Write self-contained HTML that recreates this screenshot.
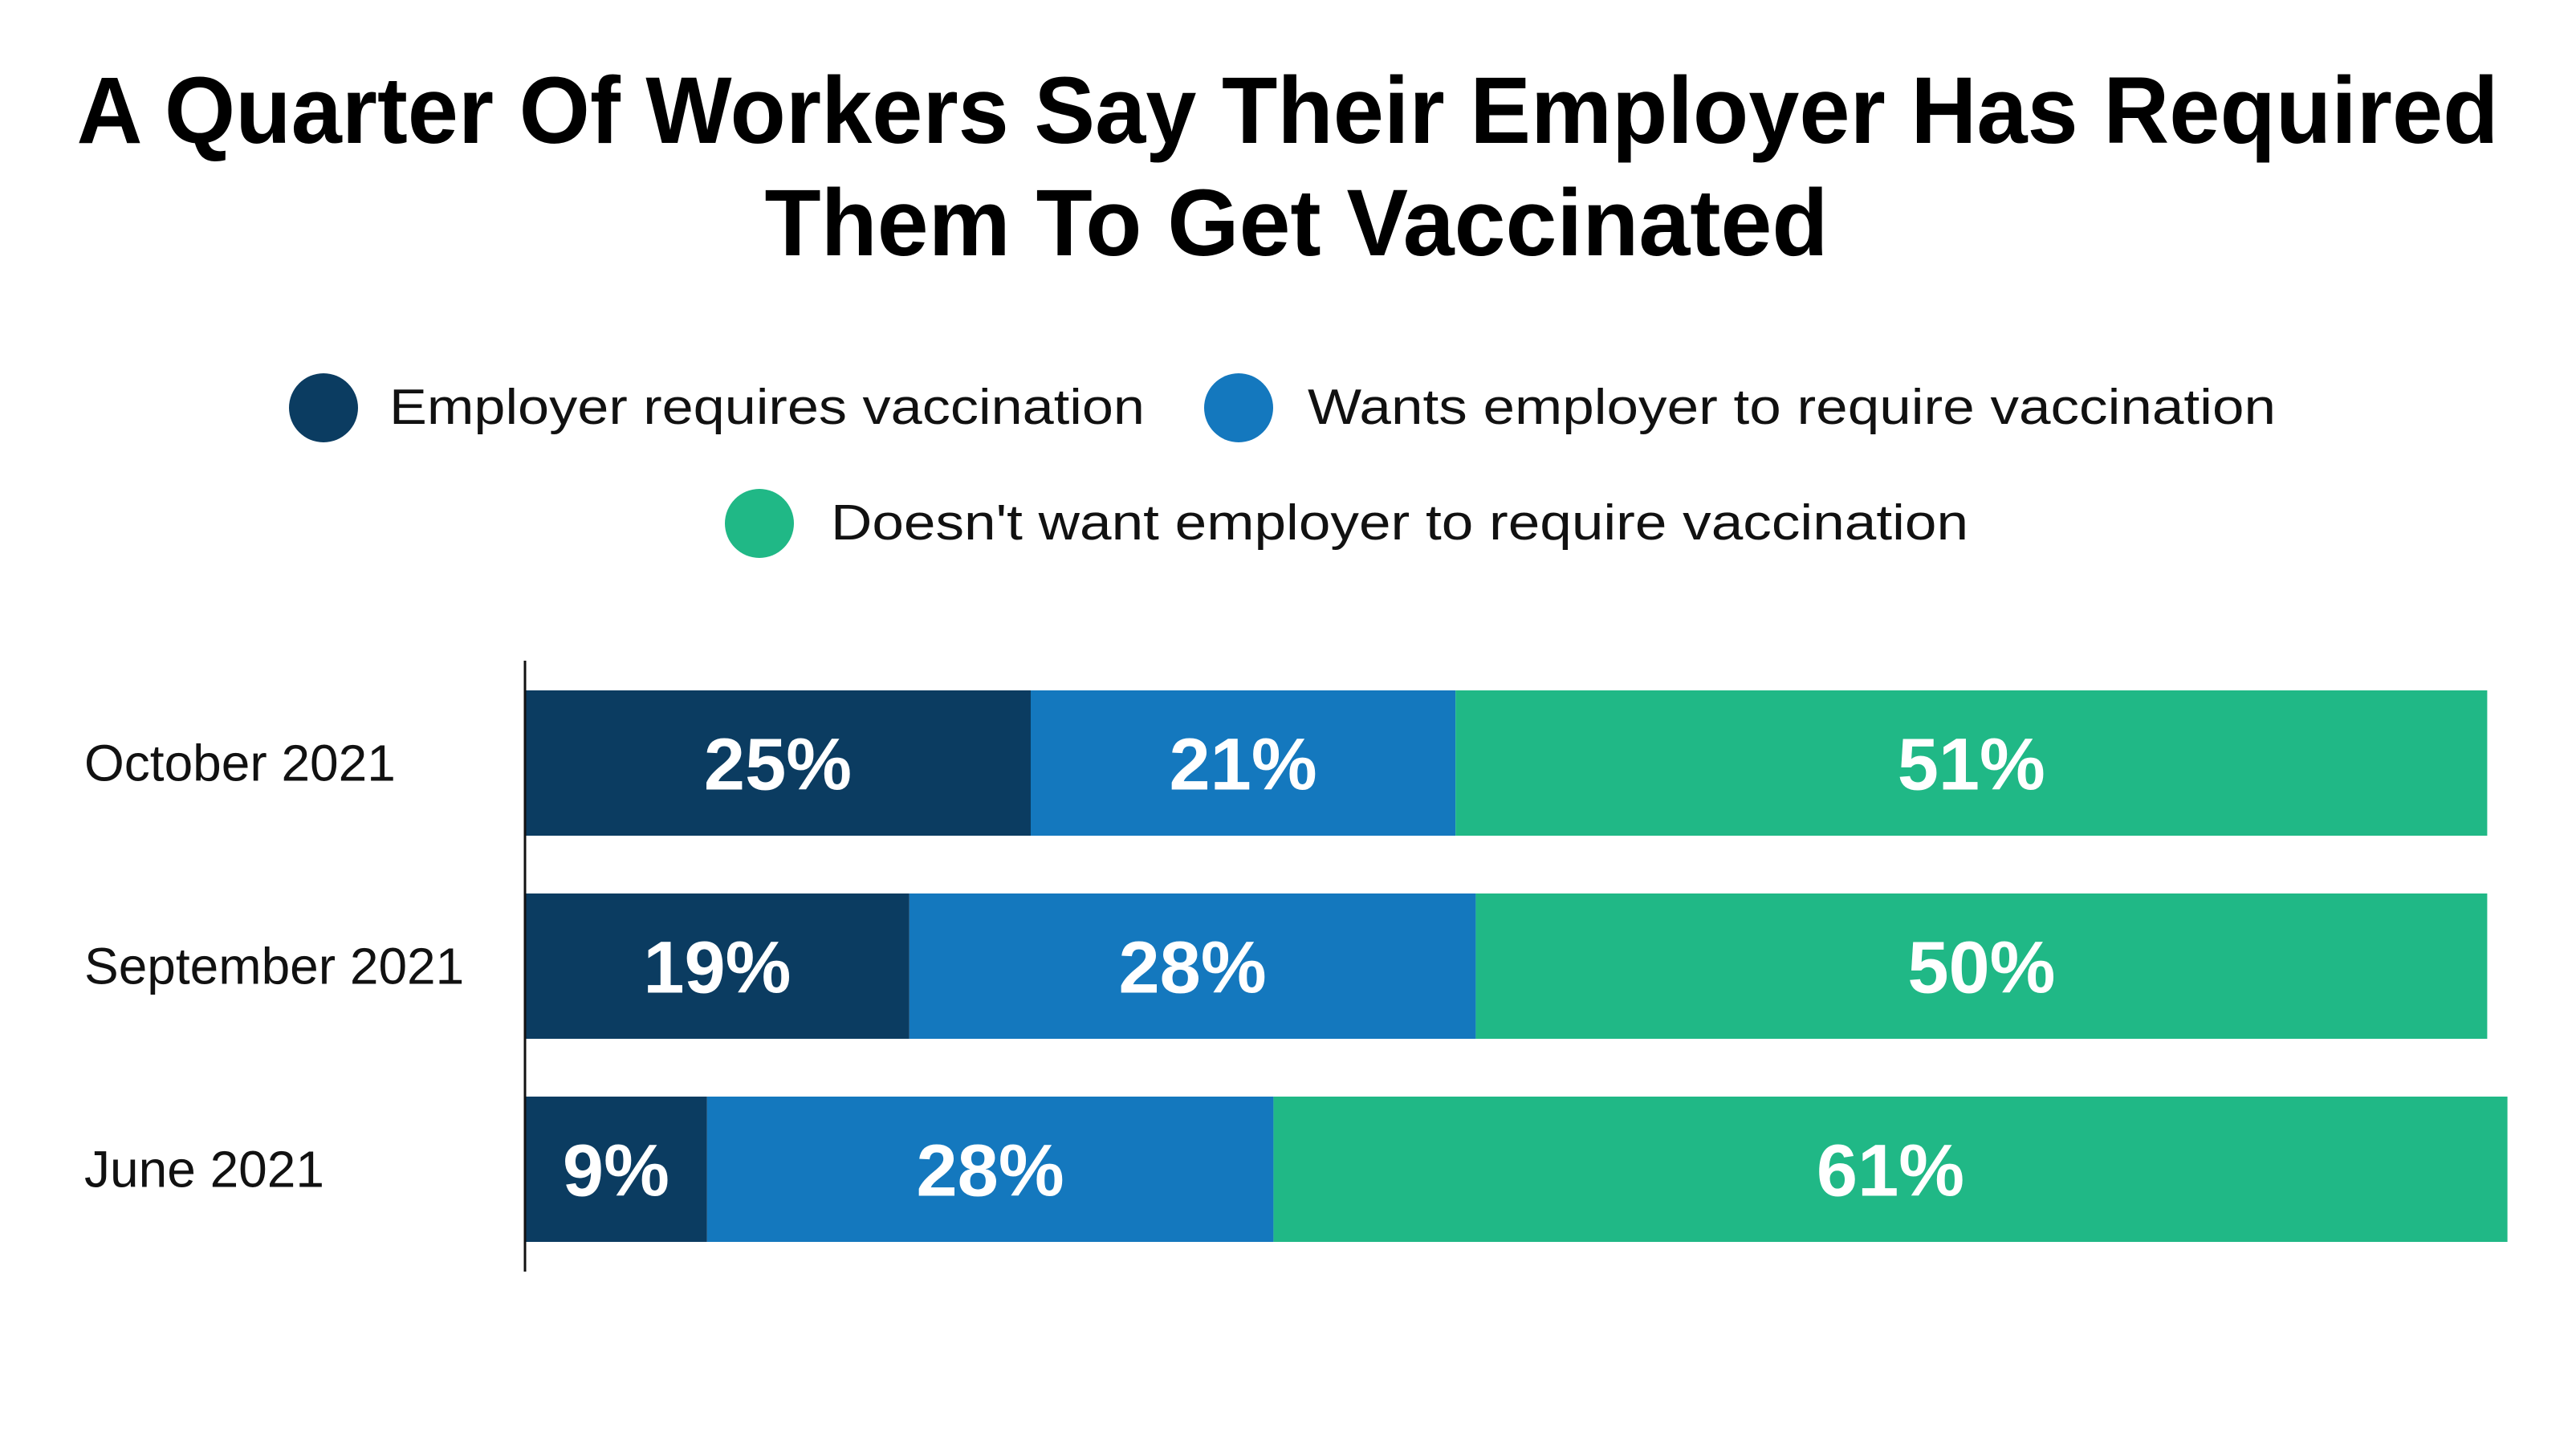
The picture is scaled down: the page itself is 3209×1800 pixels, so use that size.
<!DOCTYPE html>
<html><head><meta charset="utf-8"><style>
body{margin:0;background:#fff;}
svg{display:block;font-family:"Liberation Sans",sans-serif;}
</style></head><body>
<svg width="3209" height="1800" viewBox="0 0 3209 1800">
<text x="1604" y="178" text-anchor="middle" font-size="118" font-weight="bold" textLength="3017" lengthAdjust="spacingAndGlyphs">A Quarter Of Workers Say Their Employer Has Required</text>
<text x="1615" y="318" text-anchor="middle" font-size="118" font-weight="bold" textLength="1325" lengthAdjust="spacingAndGlyphs">Them To Get Vaccinated</text>
<g>
<circle cx="403" cy="508" r="43" fill="#0b3c61"/>
<text x="485" y="528" font-size="62" fill="#111" textLength="941" lengthAdjust="spacingAndGlyphs">Employer requires vaccination</text>
<circle cx="1543" cy="508" r="43" fill="#1478be"/>
<text x="1629" y="528" font-size="62" fill="#111" textLength="1206" lengthAdjust="spacingAndGlyphs">Wants employer to require vaccination</text>
<circle cx="946" cy="652" r="43" fill="#20b886"/>
<text x="1035" y="672" font-size="62" fill="#111" textLength="1417" lengthAdjust="spacingAndGlyphs">Doesn't want employer to require vaccination</text>
</g>
<g id="plot"></g>
<line x1="654" y1="823" x2="654" y2="1584" stroke="#111" stroke-width="3"/>
</svg>
<script>
const categories=["October 2021","September 2021","June 2021"];
const employerRequires=[25,19,9];
const wantsRequire=[21,28,28];
const doesntWant=[51,50,61];
const seriesColors=["#0b3c61","#1478be","#20b886"];
const seriesKeys=["employer-requires","wants","doesnt-want"];
const x0=654, pxPer=25.2, barTop0=860, barH=181, step=253;
const xScale=v=>x0+v*pxPer;
const yScale=i=>barTop0+i*step;
const plot=document.getElementById('plot');
const NS="http://www.w3.org/2000/svg";
const series=[employerRequires,wantsRequire,doesntWant];
categories.forEach((c,i)=>{
  const y=yScale(i);
  const lab=document.createElementNS(NS,'text');
  
  
  lab.setAttribute('x',105);lab.setAttribute('y',y+barH/2+22);
  lab.setAttribute('font-size','64');lab.setAttribute('fill','#111');
  lab.textContent=c;plot.appendChild(lab);
  let acc=0;
  series.forEach((s,k)=>{
    const v=s[i];
    const r=document.createElementNS(NS,'rect');
    
    
    r.setAttribute('x',xScale(acc));r.setAttribute('y',y);
    r.setAttribute('width',v*pxPer);r.setAttribute('height',barH);
    r.setAttribute('fill',seriesColors[k]);plot.appendChild(r);
    const t=document.createElementNS(NS,'text');
    
    
    t.setAttribute('x',xScale(acc+v/2));t.setAttribute('y',y+barH/2+33);
    t.setAttribute('text-anchor','middle');t.setAttribute('font-size','92');
    t.setAttribute('font-weight','bold');t.setAttribute('fill','#fff');
    t.textContent=v+'%';plot.appendChild(t);
    acc+=v;
  });
});
</script>
</body></html>
